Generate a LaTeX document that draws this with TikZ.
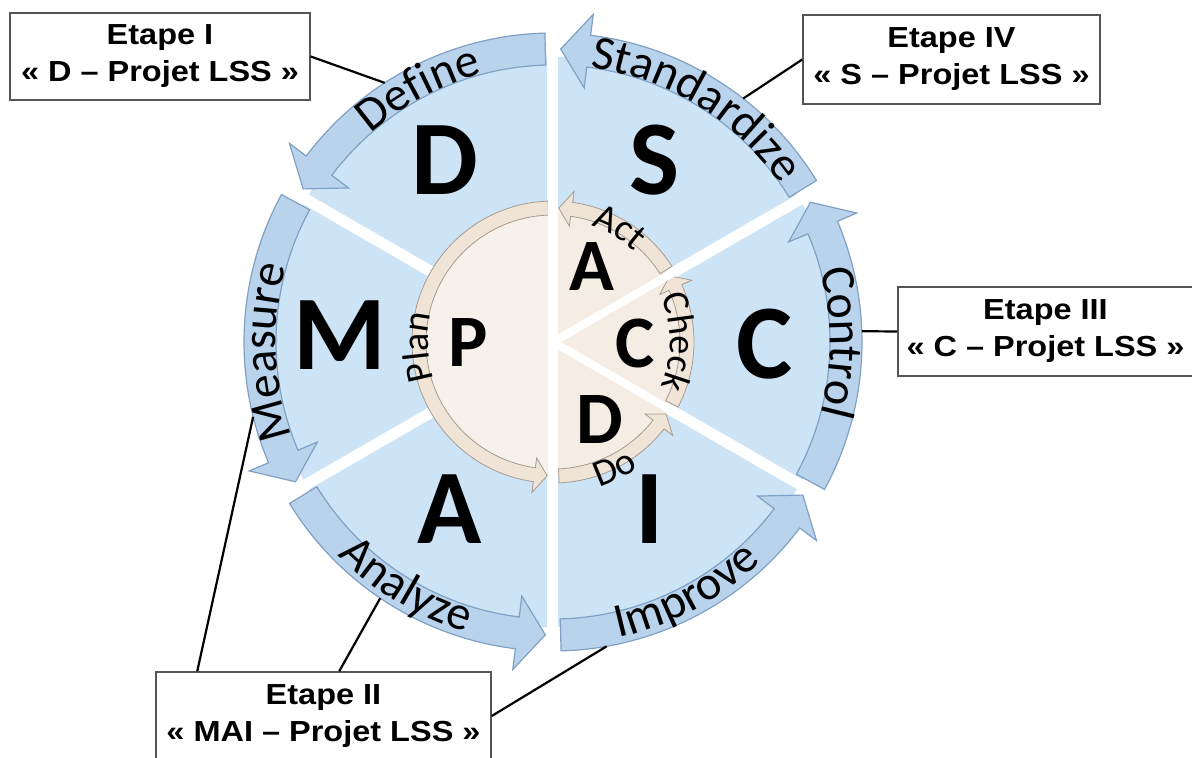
\documentclass[tikz,border=0pt]{standalone}
\usepackage{fontspec}
\usepackage{tikz}
\usetikzlibrary{decorations.text}
\newfontfamily\carlito{Carlito}
\newfontfamily\boxfont{Liberation Sans}[FakeStretch=1.12]
\newcommand\bandfont{\carlito\fontsize{48}{48}\selectfont}
\newcommand\cyclefont{\carlito\fontsize{38}{38}\selectfont}
\definecolor{sectorblue}{RGB}{205,228,247}
\definecolor{bandblue}{RGB}{186,211,237}
\definecolor{bandedge}{RGB}{128,160,196}
\definecolor{creamdisk}{RGB}{247,241,235}
\definecolor{creamband}{RGB}{240,228,215}
\definecolor{creamedge}{RGB}{165,155,145}
\definecolor{boxedge}{RGB}{85,85,85}

\begin{document}
\begin{tikzpicture}[x=1pt,y=1pt,
  sector/.style={fill=sectorblue},
  bandarrow/.style={fill=bandblue,draw=bandedge,line width=1.2pt},
  innerband/.style={fill=creamband,draw=creamedge,line width=0.8pt},
  gap/.style={draw=white,line width=11pt},
  bigletter/.style={font=\carlito\bfseries\fontsize{106}{106}\selectfont,inner sep=0},
  smallletter/.style={font=\carlito\bfseries\fontsize{74}{74}\selectfont,inner sep=0},
  stagebox/.style={draw=boxedge,line width=1.5pt,fill=white,align=center,inner sep=0,
    font=\boxfont\bfseries\fontsize{29}{37}\selectfont},
  link/.style={draw=black,line width=2.2pt}]
\useasboundingbox (-553,-416) rectangle (639,342);

\fill[sector] (0,0) circle[radius=285];

\draw[bandarrow] (91.5:309) arc[start angle=91.5,end angle=143,radius=309] -- (143:330) -- (148.5:293) -- (143:256) -- (143:277) arc[start angle=143,end angle=91.5,radius=277] -- cycle;
\draw[bandarrow] (151.5:309) arc[start angle=151.5,end angle=203,radius=309] -- (203:330) -- (208.5:293) -- (203:256) -- (203:277) arc[start angle=203,end angle=151.5,radius=277] -- cycle;
\draw[bandarrow] (211.5:309) arc[start angle=211.5,end angle=263,radius=309] -- (263:330) -- (268.5:293) -- (263:256) -- (263:277) arc[start angle=263,end angle=211.5,radius=277] -- cycle;
\draw[bandarrow] (271.5:309) arc[start angle=271.5,end angle=323,radius=309] -- (323:330) -- (328.5:293) -- (323:256) -- (323:277) arc[start angle=323,end angle=271.5,radius=277] -- cycle;
\draw[bandarrow] (331.5:309) arc[start angle=331.5,end angle=383,radius=309] -- (383:330) -- (388.5:293) -- (383:256) -- (383:277) arc[start angle=383,end angle=331.5,radius=277] -- cycle;
\draw[bandarrow] (31.5:309) arc[start angle=31.5,end angle=83,radius=309] -- (83:330) -- (88.5:293) -- (83:256) -- (83:277) arc[start angle=83,end angle=31.5,radius=277] -- cycle;

\draw[gap] (0,0) -- (30:335);
\draw[gap] (0,0) -- (90:335);
\draw[gap] (0,0) -- (150:335);
\draw[gap] (0,0) -- (210:335);
\draw[gap] (0,0) -- (270:335);
\draw[gap] (0,0) -- (330:335);

\fill[creamdisk] (0,0) -- (90:134) arc[start angle=90,end angle=270,radius=134] -- cycle;
\fill[creamdisk!96!brown] (0,0) -- (30:134) arc[start angle=30,end angle=90,radius=134] -- cycle;
\fill[creamdisk!96!brown] (0,0) -- (-30:134) arc[start angle=-30,end angle=30,radius=134] -- cycle;
\fill[creamdisk!96!brown] (0,0) -- (-90:134) arc[start angle=-90,end angle=-30,radius=134] -- cycle;

\draw[innerband] (92:141) arc[start angle=92,end angle=262,radius=141] -- (262:152) -- (267.5:134) -- (262:117) -- (262:127) arc[start angle=262,end angle=92,radius=127] -- cycle;
\draw[innerband] (272.5:141) arc[start angle=272.5,end angle=322,radius=141] -- (322:152) -- (327.5:134) -- (322:117) -- (322:127) arc[start angle=322,end angle=272.5,radius=127] -- cycle;
\draw[innerband] (332.5:141) arc[start angle=332.5,end angle=384,radius=141] -- (384:152) -- (389.5:134) -- (384:117) -- (384:127) arc[start angle=384,end angle=332.5,radius=127] -- cycle;
\draw[innerband] (32.5:141) arc[start angle=32.5,end angle=82,radius=141] -- (82:152) -- (87.5:134) -- (82:117) -- (82:127) arc[start angle=82,end angle=32.5,radius=127] -- cycle;

\draw[gap,line width=8pt] (0,0) -- (30:160);
\draw[gap,line width=8pt] (0,0) -- (-30:160);
\draw[gap,line width=10pt] (0,160) -- (0,-160);

\node[bigletter] (letD) at (-108,182) {D};
\node[bigletter] (letS) at (102,182) {S};
\node[bigletter] (letM) at (-213,7) {M};
\node[bigletter] (letC) at (212,-2) {C};
\node[bigletter] (letA) at (-103,-167) {A};
\node[bigletter] (letI) at (97,-167) {I};

\node[smallletter] (pdcaP) at (-85,-1) {P};
\node[smallletter] (pdcaA) at (39,75) {A};
\node[smallletter] (pdcaC) at (82,-1) {C};
\node[smallletter] (pdcaD) at (47,-78) {D};

\path[decorate,decoration={text along path,text align=center,text={|\bandfont|Define}}] (158:277) arc[start angle=158,end angle=78,radius=277];
\path[decorate,decoration={text along path,text align=center,text={|\bandfont|Standardize}}] (100:277) arc[start angle=100,end angle=17,radius=277];
\path[decorate,decoration={text along path,text align=center,text={|\bandfont|Measure}}] (222:277) arc[start angle=222,end angle=142,radius=277];
\path[decorate,decoration={text along path,text align=center,text={|\bandfont|Control}}] (40:277) arc[start angle=40,end angle=-40,radius=277];
\path[decorate,decoration={text along path,text align=center,text={|\bandfont|Analyze}}] (199:303) arc[start angle=199,end angle=279,radius=303];
\path[decorate,decoration={text along path,text align=center,text={|\bandfont|Improve}}] (258:303) arc[start angle=258,end angle=338,radius=303];

\path[decorate,decoration={text along path,text align=center,text={|\cyclefont|Act}}] (110:122) arc[start angle=110,end angle=10,radius=122];
\path[decorate,decoration={text along path,text align=center,text={|\cyclefont|Check}}] (50:117) arc[start angle=50,end angle=-50,radius=117];
\path[decorate,decoration={text along path,text align=center,text={|\cyclefont|Plan}}] (232:125) arc[start angle=232,end angle=132,radius=125];
\path[decorate,decoration={text along path,text align=center,text={|\cyclefont|Do}}] (256:152) arc[start angle=256,end angle=336,radius=152];

\node[stagebox,minimum width=300pt,minimum height=87pt] (etapeI) at (-393,285.5) {Etape I\\« D – Projet LSS »};
\node[stagebox,minimum width=297pt,minimum height=89pt] (etapeIV) at (398.5,282.5) {Etape IV\\« S – Projet LSS »};
\node[stagebox,minimum width=295pt,minimum height=89pt] (etapeIII) at (492.5,10.5) {Etape III\\« C – Projet LSS »};
\node[stagebox,minimum width=335pt,minimum height=88pt] (etapeII) at (-229.5,-374) {Etape II\\« MAI – Projet LSS »};

\coordinate (defineEnd) at (123:309);
\coordinate (standardEnd) at (52:309);
\coordinate (controlEnd) at (2:309);
\coordinate (measureEnd) at (194:309);
\coordinate (analyzeEnd) at (236:309);
\coordinate (improveEnd) at (280:309);

\draw[link] (etapeI.east) -- (defineEnd);
\draw[link] (etapeIV.west) -- (standardEnd);
\draw[link] (etapeIII.west) -- (controlEnd);
\draw[link] ([xshift=42pt]etapeII.north west) -- (measureEnd);
\draw[link] ([xshift=184pt]etapeII.north west) -- (analyzeEnd);
\draw[link] (etapeII.east) -- (improveEnd);
\end{tikzpicture}
\end{document}
